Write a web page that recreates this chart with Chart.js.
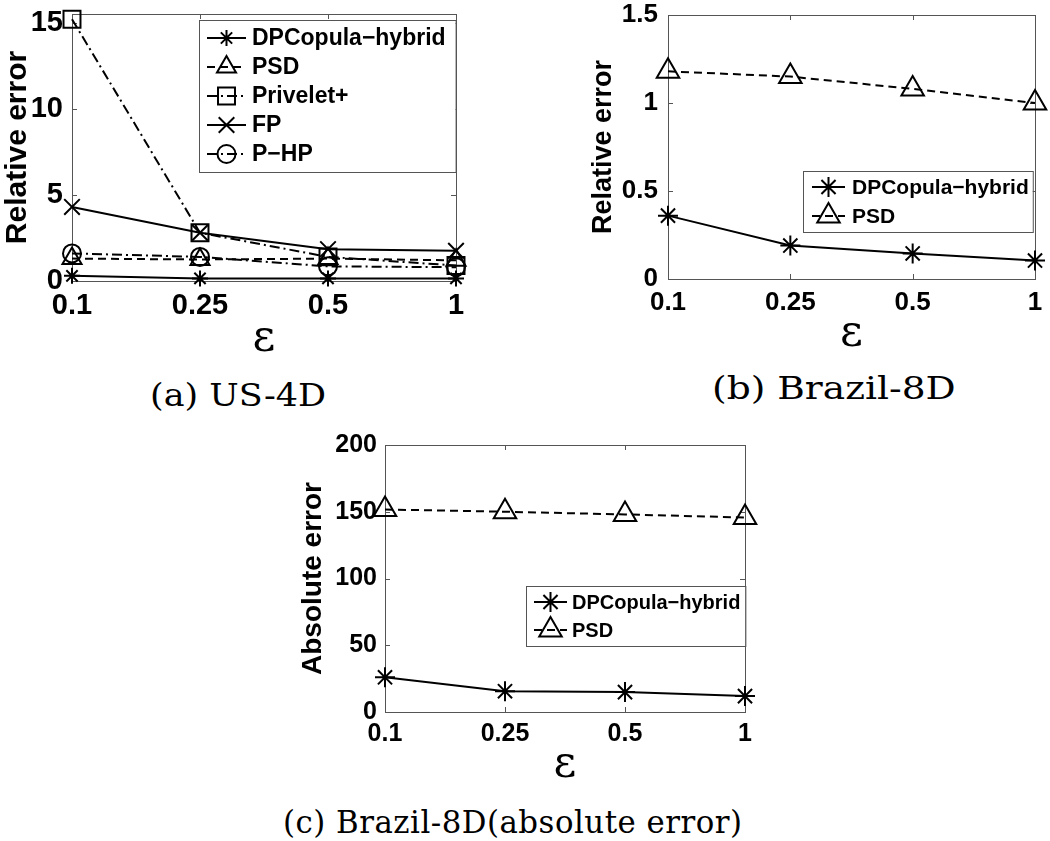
<!DOCTYPE html>
<html>
<head>
<meta charset="utf-8">
<script src="https://cdn.jsdelivr.net/npm/chart.js@4.4.1/dist/chart.umd.min.js"></script>
<style>
  body { margin: 0; background: #fff; width: 1050px; height: 841px; position: relative; overflow: hidden; }
  .panel { position: absolute; }
  .cap { position: absolute; font-family: "DejaVu Serif", serif; font-size: 32px; line-height: 1; white-space: nowrap; color: #000; transform-origin: 0 0; }
</style>
</head>
<body>
<div class="panel" style="left:0;top:0"><canvas id="chartA" width="480" height="365"></canvas></div>
<div class="panel" style="left:540px;top:0"><canvas id="chartB" width="510" height="362"></canvas></div>
<div class="panel" style="left:240px;top:430px"><canvas id="chartC" width="540" height="360"></canvas></div>
<div class="cap" id="capA" style="top:379px">(a) US-4D</div>
<div class="cap" id="capB" style="top:372px">(b) Brazil-8D</div>
<div class="cap" id="capC" style="top:807px;font-size:31.5px;letter-spacing:0.5px">(c) Brazil-8D(absolute error)</div>
<script>
const eps = ['0.1', '0.25', '0.5', '1'];

// (a) US-4D, relative error
const usDPCopula = [0.3, 0.15, 0.15, 0.15];
const usPSD = [1.3, 1.25, 1.3, 1.2];
const usPrivelet = [15.2, 2.8, 1.4, 0.9];
const usFP = [4.3, 2.8, 1.85, 1.75];
const usPHP = [1.6, 1.4, 0.85, 0.8];

// (b) Brazil-8D, relative error
const brDPCopula = [0.36, 0.19, 0.145, 0.105];
const brPSD = [1.18, 1.15, 1.08, 1.0];

// (c) Brazil-8D, absolute error
const brAbsDPCopula = [26, 15.6, 14.9, 11.9];
const brAbsPSD = [151.7, 150, 148, 145.7];

const sans = '"Liberation Sans", Arial, sans-serif';
Chart.defaults.color = '#000';
Chart.defaults.font.family = sans;

const dashed = [8, 5];
const dashDot = [10, 4, 2, 4];

function series(label, data, style, radius, dash) {
  return {
    label: label,
    data: data,
    borderColor: '#000',
    borderWidth: 2,
    borderDash: dash,
    pointStyle: style,
    pointRadius: radius,
    pointHoverRadius: radius,
    pointBorderColor: '#000',
    pointBackgroundColor: 'rgba(0,0,0,0)',
    pointBorderWidth: 2,
    fill: false,
    tension: 0,
    clip: false
  };
}

// box with inward ticks, like the original axes
const framePlugin = {
  id: 'frame',
  beforeDatasetsDraw(chart) {
    const {ctx, chartArea: a, scales: {x, y}} = chart;
    ctx.save();
    ctx.strokeStyle = '#555';
    ctx.lineWidth = 1;
    ctx.strokeRect(a.left + 0.5, a.top + 0.5, a.width, a.height);
    ctx.beginPath();
    x.ticks.forEach((t, i) => {
      const px = Math.round(x.getPixelForTick(i)) + 0.5;
      ctx.moveTo(px, a.bottom); ctx.lineTo(px, a.bottom - 5);
      ctx.moveTo(px, a.top); ctx.lineTo(px, a.top + 5);
    });
    y.ticks.forEach((t, i) => {
      const py = Math.round(y.getPixelForTick(i)) + 0.5;
      ctx.moveTo(a.left, py); ctx.lineTo(a.left + 5, py);
      ctx.moveTo(a.right, py); ctx.lineTo(a.right - 5, py);
    });
    ctx.stroke();
    ctx.restore();
  }
};

// legend with line sample + marker, inside the axes
const boxLegend = {
  id: 'boxLegend',
  afterDatasetsDraw(chart, args, opts) {
    const {ctx, chartArea: a} = chart;
    const sets = chart.data.datasets;
    ctx.save();
    ctx.font = 'bold ' + opts.size + 'px ' + sans;
    let w = 0;
    sets.forEach(d => { w = Math.max(w, ctx.measureText(d.label).width); });
    const boxW = opts.textX + w + opts.padR;
    const boxH = opts.rowH * sets.length + opts.padV;
    const left = Math.round(a.right - opts.right - boxW);
    const top = Math.round(a.top + opts.top);
    ctx.fillStyle = '#fff';
    ctx.fillRect(left, top, boxW, boxH);
    ctx.strokeStyle = '#555';
    ctx.lineWidth = 1;
    ctx.strokeRect(left + 0.5, top + 0.5, boxW, boxH);
    sets.forEach((d, i) => {
      const cy = top + opts.padV / 2 + opts.rowH * (i + 0.5);
      ctx.strokeStyle = '#000';
      ctx.lineWidth = d.borderWidth;
      ctx.setLineDash(d.borderDash || []);
      ctx.beginPath();
      ctx.moveTo(left + opts.lineX0, cy);
      ctx.lineTo(left + opts.lineX1, cy);
      ctx.stroke();
      ctx.setLineDash([]);
      ctx.fillStyle = 'rgba(0,0,0,0)';
      ctx.lineWidth = d.pointBorderWidth;
      Chart.helpers.drawPoint(ctx, {
        pointStyle: d.pointStyle, radius: d.pointRadius, rotation: 0, borderWidth: d.pointBorderWidth
      }, left + (opts.lineX0 + opts.lineX1) / 2, cy);
      ctx.fillStyle = '#000';
      ctx.textBaseline = 'middle';
      ctx.textAlign = 'left';
      ctx.fillText(d.label, left + opts.textX, cy + 1);
    });
    ctx.restore();
  }
};

function makeChart(id, datasets, cfg) {
  return new Chart(document.getElementById(id), {
    type: 'line',
    data: { labels: eps, datasets: datasets },
    plugins: [framePlugin, boxLegend],
    options: {
      responsive: false,
      animation: false,
      events: [],
      layout: { padding: { top: cfg.padTop, right: cfg.padRight, left: 0, bottom: 0 } },
      plugins: {
        legend: { display: false },
        tooltip: { enabled: false },
        boxLegend: cfg.legend
      },
      scales: {
        x: {
          type: 'category',
          offset: false,
          grid: { display: false, drawTicks: false, tickLength: 0 },
          border: { display: false },
          ticks: { font: { size: cfg.tickSize, weight: 'bold' }, padding: cfg.xTickPad, maxRotation: 0, autoSkip: false },
          title: {
            display: true,
            text: 'ε',
            font: { family: '"DejaVu Serif", serif', size: 44, weight: 'normal', lineHeight: 1 },
            padding: { top: 0, bottom: cfg.epsPad }
          },
          afterFit: s => {
            s.height = cfg.xHeight;
            s.paddingLeft = 0;
            s.paddingRight = 0;
          }
        },
        y: {
          min: 0,
          max: cfg.yMax,
          grid: { display: false, drawTicks: false, tickLength: 0 },
          border: { display: false },
          ticks: {
            stepSize: cfg.yStep,
            includeBounds: false,
            font: { size: cfg.tickSize, weight: 'bold' },
            padding: cfg.yTickPad,
            callback: v => String(v)
          },
          title: {
            display: true,
            text: cfg.yTitle,
            font: { size: cfg.yTitleSize, weight: 'bold', lineHeight: 1.2 },
            padding: { top: cfg.yTitlePad, bottom: 0 }
          },
          afterFit: s => {
            s.width = cfg.yWidth;
            s.paddingTop = 0;
            s.paddingBottom = 0;
          }
        }
      }
    }
  });
}

makeChart('chartA', [
  series('DPCopula\u2212hybrid', usDPCopula, 'star', 8, []),
  series('PSD', usPSD, 'triangle', 11, dashed),
  series('Privelet+', usPrivelet, 'rect', 12, dashDot),
  series('FP', usFP, 'crossRot', 11, []),
  series('P\u2212HP', usPHP, 'circle', 9, dashDot)
], {
  padTop: 9, padRight: 24, yWidth: 72, xHeight: 84,
  yMax: 15.5, yStep: 5, tickSize: 29, xTickPad: 8, yTickPad: 9,
  yTitle: 'Relative error', yTitleSize: 30, yTitlePad: 0, epsPad: 3,
  legend: { size: 23, right: 0, top: 6, rowH: 29, padV: 7, lineX0: 8, lineX1: 47, textX: 53, padR: 10 }
});

makeChart('chartB', [
  series('DPCopula\u2212hybrid', brDPCopula, 'star', 10, []),
  series('PSD', brPSD, 'triangle', 13, dashed)
], {
  padTop: 9, padRight: 15, yWidth: 128, xHeight: 83,
  yMax: 1.5, yStep: 0.5, tickSize: 26, xTickPad: 8, yTickPad: 10,
  yTitle: 'Relative error', yTitleSize: 27, yTitlePad: 47, epsPad: 5,
  legend: { size: 21, right: 2, top: 156, rowH: 29, padV: 3, lineX0: 9, lineX1: 42, textX: 49, padR: 4 }
});

makeChart('chartC', [
  series('DPCopula\u2212hybrid', brAbsDPCopula, 'star', 10, []),
  series('PSD', brAbsPSD, 'triangle', 13, dashed)
], {
  padTop: 13, padRight: 35, yWidth: 145, xHeight: 78,
  yMax: 200, yStep: 50, tickSize: 25, xTickPad: 7, yTickPad: 8,
  yTitle: 'Absolute error', yTitleSize: 28, yTitlePad: 56, epsPad: 2,
  legend: { size: 20, right: 0, top: 141, rowH: 28, padV: 4, lineX0: 8, lineX1: 41, textX: 46, padR: 5 }
});

// captions: stretch each to the width it has in the original figure
function placeCaption(id, centerX, width) {
  const el = document.getElementById(id);
  const k = width / el.offsetWidth;
  el.style.left = (centerX - width / 2) + 'px';
  el.style.transform = 'scaleX(' + k + ')';
}
placeCaption('capA', 238, 176);
placeCaption('capB', 834, 244);
placeCaption('capC', 513, 460);
</script>
</body>
</html>
